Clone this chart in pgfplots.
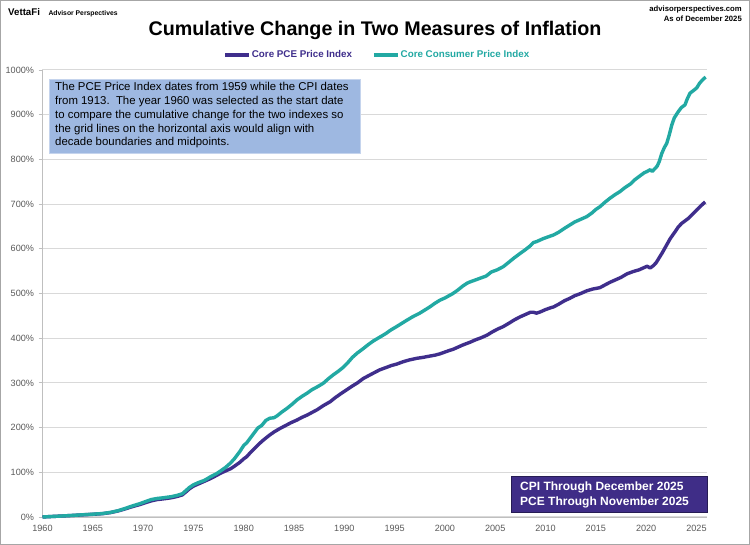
\documentclass[border=0pt]{standalone}
\usepackage{pgfplots}
\usepackage{pgfplotstable}
\pgfplotsset{compat=1.18}
\usepackage{fontspec}
\setmainfont{Liberation Sans}

\definecolor{pce}{HTML}{3F2E8C}
\definecolor{cpi}{HTML}{22A9A3}
\definecolor{gridgray}{HTML}{D9D9D9}
\definecolor{axisgray}{HTML}{BFBFBF}
\definecolor{ticktext}{HTML}{595959}
\definecolor{notefill}{HTML}{9EB8E1}
\definecolor{boxfill}{HTML}{3F2D87}
\definecolor{framegray}{HTML}{A6A6A6}

% Core CPI, cumulative change since 1960 (%)
\pgfplotstableread{
year pct
1960.0 0
1961.0 1.2
1962.0 2.3
1963.0 3.6
1964.0 5.0
1965.0 6.3
1966.0 7.8
1966.8 10.5
1967.5 14.0
1968.2 19.0
1968.9 24.5
1969.7 30.0
1970.3 35.0
1970.8 39.0
1971.4 41.5
1972.0 43.0
1972.8 45.5
1973.4 48.5
1973.9 52.0
1974.3 60.0
1974.6 66.0
1975.0 72.0
1975.5 77.0
1976.1 82.0
1976.7 90.0
1977.3 97.0
1977.7 103.0
1978.2 111.0
1978.7 121.0
1979.1 131.0
1979.6 146.0
1980.0 160.0
1980.3 166.0
1980.7 178.0
1981.1 190.0
1981.4 199.0
1981.8 205.0
1982.2 216.0
1982.6 221.0
1983.0 222.0
1983.3 226.0
1983.8 235.0
1984.3 243.0
1984.8 252.0
1985.3 262.0
1985.8 270.0
1986.3 277.0
1986.8 285.0
1987.3 291.0
1987.9 299.0
1988.4 309.0
1988.9 318.0
1989.4 326.0
1989.9 335.0
1990.3 344.0
1990.8 357.0
1991.3 367.0
1991.9 377.0
1992.4 386.0
1992.9 394.0
1993.5 402.0
1994.1 410.0
1994.6 418.0
1995.2 426.0
1995.7 433.0
1996.2 440.0
1996.8 448.0
1997.5 456.0
1998.0 463.0
1998.5 470.0
1999.0 478.0
1999.5 485.0
2000.0 490.0
2000.4 495.0
2000.8 500.0
2001.3 508.0
2001.8 517.0
2002.2 523.0
2002.5 526.0
2003.0 530.0
2003.6 535.0
2004.1 539.0
2004.6 548.0
2005.2 553.0
2005.8 560.0
2006.3 569.0
2006.9 580.0
2007.5 590.0
2008.0 598.0
2008.5 607.0
2008.8 614.0
2009.1 616.0
2009.4 619.0
2009.8 623.0
2010.3 627.0
2010.8 631.0
2011.3 637.0
2011.9 646.0
2012.4 653.0
2012.9 660.0
2013.5 666.0
2014.1 672.0
2014.6 680.0
2015.0 688.0
2015.4 694.0
2015.9 704.0
2016.4 713.0
2016.9 721.0
2017.4 728.0
2017.9 737.0
2018.5 746.0
2018.9 755.0
2019.5 765.0
2019.8 770.0
2020.1 773.0
2020.4 777.0
2020.6 773.0
2020.9 780.0
2021.1 785.0
2021.3 795.0
2021.55 813.0
2021.8 826.0
2022.05 836.0
2022.3 855.0
2022.55 877.0
2022.8 893.0
2023.2 907.0
2023.5 916.0
2023.86 922.0
2024.1 936.0
2024.36 948.0
2024.7 954.0
2025.03 960.0
2025.3 970.0
2025.53 976.0
2025.75 981.0
2025.92 984.0
}\cpidata

% Core PCE price index, cumulative change since 1960 (%)
\pgfplotstableread{
year pct
1960.0 0
1961.0 1.2
1962.0 2.3
1963.0 3.5
1964.0 4.8
1965.0 6.0
1966.0 7.5
1966.8 10.0
1967.5 13.5
1968.2 18.0
1968.9 23.0
1969.7 28.0
1970.3 32.5
1970.8 36.0
1971.4 39.0
1972.0 40.5
1972.8 43.0
1973.4 46.0
1973.9 49.5
1974.3 57.0
1974.6 63.0
1975.0 69.0
1975.5 74.0
1976.1 80.0
1976.7 86.0
1977.3 93.0
1977.7 98.0
1978.2 103.0
1978.7 108.0
1979.1 114.0
1979.6 122.0
1980.0 130.0
1980.3 135.0
1980.7 145.0
1981.1 154.0
1981.6 165.0
1982.0 173.0
1982.5 182.0
1983.0 190.0
1983.6 198.0
1984.2 205.0
1984.7 211.0
1985.3 217.0
1985.8 223.0
1986.3 228.0
1986.8 234.0
1987.3 240.0
1987.9 249.0
1988.6 258.0
1989.1 267.0
1989.6 275.0
1990.2 284.0
1990.8 293.0
1991.3 300.0
1991.9 310.0
1992.4 316.0
1992.9 322.0
1993.5 329.0
1994.1 334.0
1994.7 339.0
1995.2 342.0
1995.8 347.0
1996.4 351.0
1997.2 355.0
1997.8 357.0
1998.5 360.0
1999.0 362.0
1999.5 365.0
2000.0 369.0
2000.5 373.0
2000.8 375.0
2001.3 380.0
2001.8 385.0
2002.5 391.0
2003.0 396.0
2003.6 401.0
2004.2 407.0
2004.7 414.0
2005.3 421.0
2005.8 426.0
2006.4 434.0
2006.9 441.0
2007.5 448.0
2008.0 453.0
2008.5 458.0
2008.8 458.0
2009.1 456.0
2009.5 459.0
2010.0 464.0
2010.5 468.0
2010.8 470.0
2011.3 476.0
2011.9 484.0
2012.4 489.0
2012.9 495.0
2013.5 500.0
2014.1 506.0
2014.7 510.0
2015.4 513.0
2015.9 519.0
2016.4 525.0
2017.0 531.0
2017.5 536.0
2018.1 544.0
2018.7 549.0
2019.3 553.0
2019.8 558.0
2020.1 561.0
2020.4 557.0
2020.7 562.0
2021.0 569.0
2021.3 580.0
2021.6 591.0
2022.05 609.0
2022.4 623.0
2022.87 638.0
2023.2 649.0
2023.54 657.0
2023.9 663.0
2024.2 668.0
2024.6 677.0
2025.03 687.0
2025.4 695.0
2025.86 705.0
}\pcedata

\begin{document}
\begin{tikzpicture}[x=1pt,y=1pt]
\useasboundingbox (0,0) rectangle (750,545);
\fill[white] (0,0) rectangle (750,545);
\draw[framegray, line width=1.4pt] (0.7,0.7) rectangle (749.3,544.3);

% header
\node[anchor=base west, inner sep=0pt, font=\bfseries\fontsize{9.7}{11}\selectfont] at (8,545-16) {VettaFi};
\node[anchor=base west, inner sep=0pt, font=\bfseries\fontsize{6.8}{8}\selectfont] at (48.3,545-15.5) {Advisor Perspectives};
\node[anchor=base east, inner sep=0pt, font=\bfseries\fontsize{7.7}{9}\selectfont] at (742,545-11.5) {advisorperspectives.com};
\node[anchor=base east, inner sep=0pt, font=\bfseries\fontsize{7.7}{9}\selectfont] at (742,545-21.5) {As of December 2025};
\node[anchor=base, inner sep=0pt, font=\bfseries\fontsize{19.7}{22}\selectfont] at (375,545-36) {Cumulative Change in Two Measures of Inflation};

\begin{axis}[
  at={(42.5pt,28pt)}, anchor=south west,
  width=664.5pt, height=447pt, scale only axis,
  xmin=1960, xmax=2026.05, ymin=0, ymax=1000,
  axis lines=left,
  axis line style={-, draw=axisgray, line width=0.9pt},
  xtick={1960,1965,...,2025},
  ytick={0,100,...,1000},
  ymajorgrids,
  major grid style={gridgray, line width=1pt},
  /pgf/number format/assume math mode=true,
  /pgf/number format/1000 sep={},
  yticklabel={\pgfmathprintnumber{\tick}\%},
  tick label style={font=\fontsize{9.1}{10}\selectfont, text=ticktext},
  xtick style={draw=none},
  ytick style={draw=axisgray, line width=0.9pt},
  major tick length=4pt,
  tick align=outside,
  yticklabel style={xshift=-1pt},
  xticklabel style={yshift=-1pt},
  clip=false,
  legend columns=2,
  legend style={at={(0.503,1.0336)}, anchor=center, draw=none, fill=none,
    font=\bfseries\fontsize{9.8}{11}\selectfont,
    nodes={inner sep=1pt},
    /tikz/every even column/.append style={column sep=19pt}},
  legend image code/.code={\draw[#1, line width=3.6pt] (0pt,0pt) -- (24pt,0pt);},
]
\addplot[pce, line width=3.4pt, line join=round] table[x=year, y=pct] {\pcedata};
\addlegendentry{\textcolor{pce}{Core PCE Price Index}}
\addplot[cpi, line width=3.4pt, line join=round] table[x=year, y=pct] {\cpidata};
\addlegendentry{\textcolor{cpi}{Core Consumer Price Index}}
\end{axis}

% explanatory note
\fill[notefill] (49,545-79) rectangle (360,545-153);
\draw[notefill!60!white, line width=0.6pt] (49,545-79) rectangle (360,545-153);
\node[anchor=north west, inner sep=0pt, align=left, font=\fontsize{11.4}{13.75}\selectfont] at (55,545-82.5)
  {The PCE Price Index dates from 1959 while the CPI dates\\
   from 1913.\ \ The year 1960 was selected as the start date\\
   to compare the cumulative change for the two indexes so\\
   the grid lines on the horizontal axis would align with\\
   decade boundaries and midpoints.};

% data coverage box
\fill[boxfill] (511.5,545-476) rectangle (707.3,545-512.7);
\draw[pce!60!black, line width=0.6pt] (511.5,545-476) rectangle (707.3,545-512.7);
\node[anchor=base west, inner sep=0pt, text=white, font=\bfseries\fontsize{12}{14}\selectfont] at (520,545-490.5) {CPI Through December 2025};
\node[anchor=base west, inner sep=0pt, text=white, font=\bfseries\fontsize{12}{14}\selectfont] at (520,545-505.5) {PCE Through November 2025};
\end{tikzpicture}
\end{document}
